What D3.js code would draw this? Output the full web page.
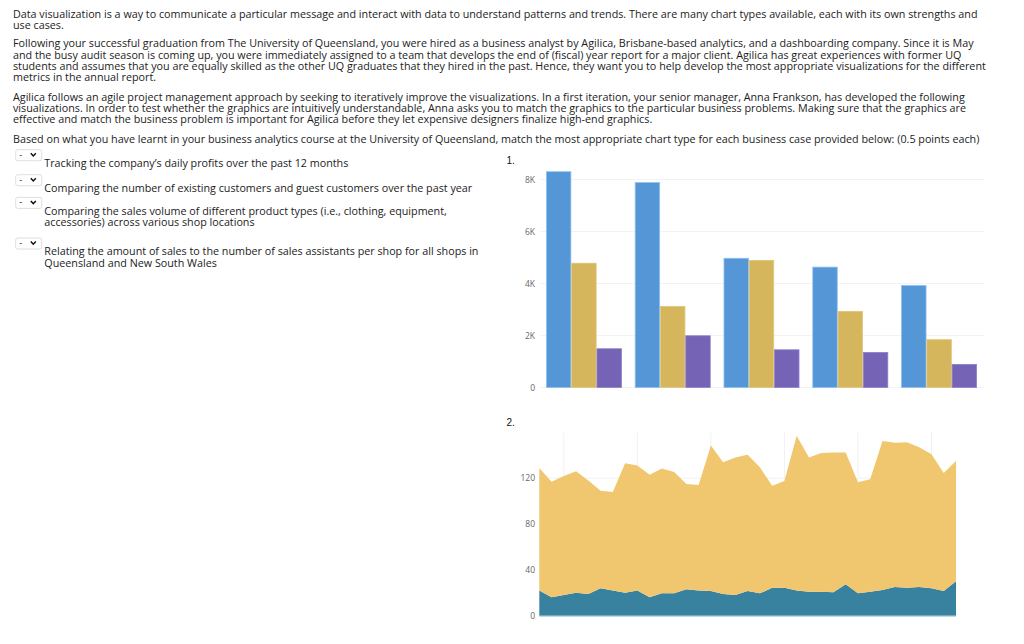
<!DOCTYPE html>
<html>
<head>
<meta charset="utf-8">
<script src="https://cdn.jsdelivr.net/npm/d3@7"></script>
<style>
  html, body { margin: 0; padding: 0; background: #fff; }
  svg { display: block; }
</style>
</head>
<body>
<script>
// question text, one entry per rendered line
var paragraphs = [
  [ "Data visualization is a way to communicate a particular message and interact with data to understand patterns and trends. There are many chart types available, each with its own strengths and",
    "use cases." ],
  [ "Following your successful graduation from The University of Queensland, you were hired as a business analyst by Agilica, Brisbane-based analytics, and a dashboarding company. Since it is May",
    "and the busy audit season is coming up, you were immediately assigned to a team that develops the end of (fiscal) year report for a major client. Agilica has great experiences with former UQ",
    "students and assumes that you are equally skilled as the other UQ graduates that they hired in the past. Hence, they want you to help develop the most appropriate visualizations for the different",
    "metrics in the annual report." ],
  [ "Agilica follows an agile project management approach by seeking to iteratively improve the visualizations. In a first iteration, your senior manager, Anna Frankson, has developed the following",
    "visualizations. In order to test whether the graphics are intuitively understandable, Anna asks you to match the graphics to the particular business problems. Making sure that the graphics are",
    "effective and match the business problem is important for Agilica before they let expensive designers finalize high-end graphics." ],
  [ "Based on what you have learnt in your business analytics course at the University of Queensland, match the most appropriate chart type for each business case provided below: (0.5 points each)" ]
];
var cases = [
  [ "Tracking the company\u2019s daily profits over the past 12 months" ],
  [ "Comparing the number of existing customers and guest customers over the past year" ],
  [ "Comparing the sales volume of different product types (i.e., clothing, equipment,", "accessories) across various shop locations" ],
  [ "Relating the amount of sales to the number of sales assistants per shop for all shops in", "Queensland and New South Wales" ]
];

// chart 1: grouped bars
var shops = [ "Shop 1", "Shop 2", "Shop 3", "Shop 4", "Shop 5" ];
var productTypes = [ "clothing", "equipment", "accessories" ];
var clothing = [ 8300, 7880, 4970, 4630, 3920 ];
var equipment = [ 4780, 3120, 4890, 2930, 1840 ];
var accessories = [ 1490, 1990, 1450, 1350, 890 ];
var barTicks = [ 0, 2000, 4000, 6000, 8000 ];

// chart 2: stacked area
var days = d3.range(35);
var guestCustomers = [ 22, 16, 18, 20, 19, 24, 22, 20, 22, 16, 19.5, 19.5, 23, 22, 21.5, 19, 18, 21.5, 19.5, 24.5,
  24.5, 22, 21, 21, 20.5, 27.5, 19.5, 21, 22.5, 25, 24.5, 25, 24, 21.5, 30 ];
var existingCustomers = [ 107, 101, 104, 106, 99, 85, 86, 113, 109, 107, 109, 106, 92, 92, 127, 115, 120, 119, 110, 89,
  93, 135, 117, 121, 122, 115, 97, 98, 130, 126, 127, 122, 117, 103, 105 ];
var areaTicks = [ 0, 40, 80, 120 ];

var svg = d3.select("body").append("svg")//
.attr("width", 1024)//
.attr("height", 644);

var textFont = "'Open Sans', sans-serif";
var textSize = "10.75px";

// Paragraphs
var paraTops = [ 14, 43.3, 96.7, 139.3 ];
var lineH = 11.4;
paragraphs.forEach(function(lines, p) {
  svg.append("g").selectAll("text").data(lines).enter().append("text")//
  .attr("x", 13)//
  .attr("y", function(d, i) {
    return paraTops[p] + i * lineH + 3.8;
  })//
  .attr("font-family", textFont)//
  .attr("font-size", textSize)//
  .attr("fill", "#1b1b1b")//
  .text(function(d) {
    return d;
  });
});

// Dropdown rows
var caseTops = [ 163, 188, 210.7, 251.3 ];
cases.forEach(function(lines, c) {
  var g = svg.append("g");
  var by = caseTops[c] - 13.3;
  g.append("rect")//
  .attr("x", 15.7).attr("y", by)//
  .attr("width", 26).attr("height", 11)//
  .attr("rx", 2)//
  .attr("fill", "#fff")//
  .attr("stroke", "#d6d6d6")//
  .attr("stroke-width", 0.8);
  g.append("text")//
  .attr("x", 20.7).attr("y", by + 8)//
  .attr("font-family", textFont)//
  .attr("font-size", "9px")//
  .attr("text-anchor", "middle")//
  .attr("fill", "#222")//
  .text("-");
  g.append("path")//
  .attr("d", "M" + 30.8 + "," + (by + 3.6) + "l2.5,2.6l2.5,-2.6")//
  .attr("fill", "none")//
  .attr("stroke", "#111")//
  .attr("stroke-width", 1.5);
  g.selectAll("text.case").data(lines).enter().append("text")//
  .attr("class", "case")//
  .attr("x", 44.3)//
  .attr("y", function(d, i) {
    return caseTops[c] + i * 11.4 + 3.8;
  })//
  .attr("font-family", textFont)//
  .attr("font-size", textSize)//
  .attr("fill", "#1b1b1b")//
  .text(function(d) {
    return d;
  });
});

// Chart numbers
svg.append("text").attr("x", 506.5).attr("y", 164).attr("font-family", "'Liberation Sans', Arial, sans-serif")//
.attr("font-size", "10px").attr("fill", "#111").text("1.");
svg.append("text").attr("x", 506.5).attr("y", 425.5).attr("font-family", "'Liberation Sans', Arial, sans-serif")//
.attr("font-size", "10px").attr("fill", "#111").text("2.");

// ---- Bar chart
var barSeries = [ clothing, equipment, accessories ];
var barColors = [ "#5496d6", "#d5b65d", "#7563b6" ];
var barStrokes = [ "#8cc0f0", "#e0c67a", "#8f80c8" ];

var x0 = d3.scaleBand().domain(shops).range([ 546, 977 ]).paddingInner(0.146).paddingOuter(0);
var x1 = d3.scaleBand().domain(productTypes).range([ 0, x0.bandwidth() ]);
var yBar = d3.scaleLinear().domain([ 0, 8000 ]).range([ 387.5, 179.5 ]);

var barChart = svg.append("g");

barChart.append("g").selectAll("line").data(barTicks).enter().append("line")//
.attr("x1", 540).attr("x2", 984)//
.attr("y1", function(d) {
  return yBar(d);
}).attr("y2", function(d) {
  return yBar(d);
})//
.attr("stroke", "#f3f3f3")//
.attr("stroke-width", 1);

var yBarAxis = barChart.append("g")//
.attr("transform", "translate(538,0)")//
.call(d3.axisLeft(yBar).tickValues(barTicks).tickSize(0).tickPadding(3).tickFormat(function(d) {
  return d === 0 ? "0" : (d / 1000) + "K";
}));
yBarAxis.select(".domain").remove();
yBarAxis.selectAll("text").attr("font-family", textFont).attr("font-size", "8.5px").attr("fill", "#666");

barChart.selectAll("g.shop").data(shops).enter().append("g")//
.attr("class", "shop")//
.attr("transform", function(d) {
  return "translate(" + x0(d) + ",0)";
})//
.selectAll("rect").data(function(d, i) {
  return productTypes.map(function(t, k) {
    return { type: t, k: k, value: barSeries[k][i] };
  });
}).enter().append("rect")//
.attr("x", function(d) {
  return x1(d.type) + 0.4;
})//
.attr("y", function(d) {
  return yBar(d.value);
})//
.attr("width", x1.bandwidth() - 0.8)//
.attr("height", function(d) {
  return yBar(0) - yBar(d.value);
})//
.attr("fill", function(d) {
  return barColors[d.k];
})//
.attr("stroke", function(d) {
  return barStrokes[d.k];
})//
.attr("stroke-width", 0.8);

// ---- Area chart
var xArea = d3.scaleLinear().domain([ 0, 34 ]).range([ 539.3, 956 ]);
var yArea = d3.scaleLinear().domain([ 0, 160 ]).range([ 615.7, 432.4 ]);

var areaChart = svg.append("g");

areaChart.append("g").selectAll("line").data(areaTicks).enter().append("line")//
.attr("x1", 539).attr("x2", 956)//
.attr("y1", function(d) {
  return yArea(d);
}).attr("y2", function(d) {
  return yArea(d);
})//
.attr("stroke", "#f1f1f1");

areaChart.append("g").selectAll("line").data(days.filter(function(d) {
  return d % 6 === 2;
})).enter().append("line")//
.attr("x1", function(d) {
  return xArea(d);
}).attr("x2", function(d) {
  return xArea(d);
})//
.attr("y1", yArea(160)).attr("y2", yArea(0))//
.attr("stroke", "#f1f1f1");

var yAreaAxis = areaChart.append("g")//
.attr("transform", "translate(538,0)")//
.call(d3.axisLeft(yArea).tickValues(areaTicks).tickSize(0).tickPadding(3));
yAreaAxis.select(".domain").remove();
yAreaAxis.selectAll("text").attr("font-family", textFont).attr("font-size", "8.5px").attr("fill", "#666");

var table = days.map(function(d) {
  return { day: d, guest: guestCustomers[d], existing: existingCustomers[d] };
});
var stacked = d3.stack().keys([ "guest", "existing" ])(table);
var areaColors = [ "#38829f", "#f0c76e" ];

var area = d3.area()//
.x(function(d) {
  return xArea(d.data.day);
})//
.y0(function(d) {
  return yArea(d[0]);
})//
.y1(function(d) {
  return yArea(d[1]);
});

areaChart.selectAll("path.layer").data(stacked).enter().append("path")//
.attr("class", "layer")//
.attr("d", area)//
.attr("fill", function(d, i) {
  return areaColors[i];
});

areaChart.append("line")//
.attr("x1", xArea(0)).attr("x2", xArea(34))//
.attr("y1", yArea(0) + 0.5).attr("y2", yArea(0) + 0.5)//
.attr("stroke", "#9cc8e0")//
.attr("stroke-width", 1);
</script>
</body>
</html>
